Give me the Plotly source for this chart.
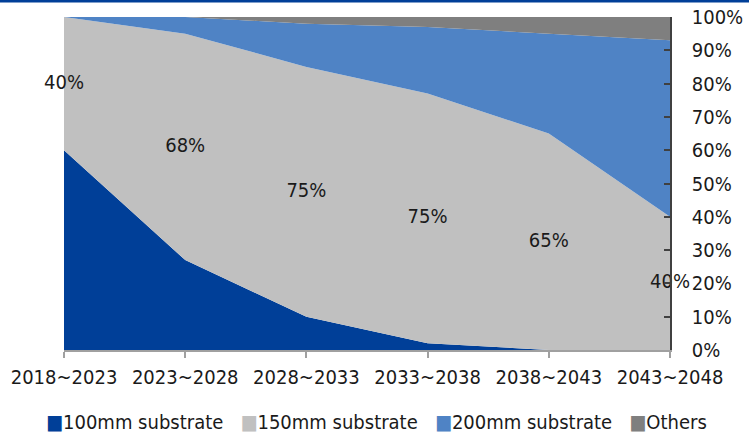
import plotly.graph_objects as go

# Substrate mix by period (share of total, %)
periods = ["2018~2023", "2023~2028", "2028~2033", "2033~2038", "2038~2043", "2043~2048"]
share_100mm = [60, 27, 10, 2, 0, 0]
share_150mm = [40, 68, 75, 75, 65, 40]
share_200mm = [0, 5, 13, 20, 30, 53]
share_others = [0, 0, 2, 3, 5, 7]
y_ticks = [0, 10, 20, 30, 40, 50, 60, 70, 80, 90, 100]

series = [
    ("100mm substrate", share_100mm, "#003f98"),
    ("150mm substrate", share_150mm, "#c0c0c0"),
    ("200mm substrate", share_200mm, "#4f83c5"),
    ("Others", share_others, "#7f7f7f"),
]

FONT = "DejaVu Sans Condensed, Liberation Sans, sans-serif"
xs = list(range(len(periods)))

fig = go.Figure()

# Stacked areas
for name, vals, color in series:
    fig.add_trace(go.Scatter(
        x=xs, y=vals, name=name, stackgroup="mix", mode="none",
        fillcolor=color, hoverinfo="skip",
    ))

# 150mm share labels at the middle of its band
label_y = [a + b / 2 for a, b in zip(share_100mm, share_150mm)]
fig.add_trace(go.Scatter(
    x=xs, y=label_y, mode="text",
    text=[f"{v}%" for v in share_150mm],
    textposition="middle center",
    textfont=dict(family=FONT, size=20, color="#1a1a1a"),
    cliponaxis=False, hoverinfo="skip",
))

# Key row below the axis: coloured square glyph + series name
key_text = "   ".join(
    f'<span style="color:{color}">■</span>{name}' for name, _, color in series
)
fig.add_annotation(
    text=key_text, xref="paper", yref="paper",
    x=0.515, y=-0.215, xanchor="center", yanchor="middle",
    showarrow=False, font=dict(family=FONT, size=20, color="#1a1a1a"),
)

# Thin band along the top edge of the page
fig.add_shape(type="rect", xref="paper", yref="paper",
              x0=-0.2, x1=1.3, y0=1.0435, y1=1.06,
              fillcolor="#003f98", line_width=0, layer="above")

fig.update_layout(
    width=749, height=434,
    margin=dict(l=64, r=79, t=17, b=84, autoexpand=False),
    paper_bgcolor="white", plot_bgcolor="white",
    showlegend=False,
    font=dict(family=FONT, size=20, color="#1a1a1a"),
    xaxis=dict(
        range=[0, len(periods) - 1],
        tickmode="array", tickvals=xs, ticktext=periods,
        showgrid=False, zeroline=False,
        showline=True, linecolor="#a0a0a0", linewidth=2,
        ticks="outside", ticklen=6, tickcolor="#a0a0a0", tickwidth=1.5,
        ticklabelstandoff=2, automargin=False,
        fixedrange=True,
    ),
    yaxis=dict(
        side="right", range=[0, 100],
        tickmode="array", tickvals=y_ticks,
        ticktext=[f"{t}%" for t in y_ticks],
        showgrid=False, zeroline=False,
        showline=True, linecolor="#404040", linewidth=1.5,
        ticks="inside", ticklen=6, tickcolor="#404040", tickwidth=1.5,
        ticklabelstandoff=16, automargin=False,
        fixedrange=True,
    ),
)

fig.write_html("out.html")
